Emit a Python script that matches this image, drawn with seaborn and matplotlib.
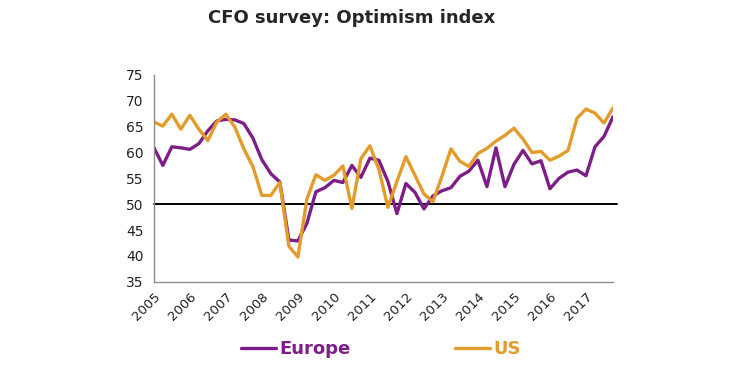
import pandas as pd
import numpy as np
import matplotlib
matplotlib.use("Agg")
import matplotlib.pyplot as plt
import seaborn as sns

# Quarterly readings, 2005 Q1 .. 2017 Q4
years = [str(y) for y in range(2005, 2018)]
quarters = [f"{y} Q{q}" for y in years for q in range(1, 5)]

europe = [
    61.0, 57.5, 61.1, 60.9,
    60.6, 61.7, 64.2, 66.1,
    66.4, 66.3, 65.6, 62.8,
    58.6, 55.9, 54.3, 43.1,
    42.9, 46.3, 52.4, 53.2,
    54.6, 54.2, 57.5, 55.2,
    58.9, 58.5, 54.4, 48.2,
    54.0, 52.3, 49.1, 51.6,
    52.6, 53.2, 55.4, 56.4,
    58.5, 53.4, 60.9, 53.4,
    57.7, 60.4, 57.8, 58.4,
    53.0, 55.0, 56.2, 56.6,
    55.5, 61.1, 63.1, 66.9,
]
us = [
    65.9, 65.1, 67.4, 64.5,
    67.2, 64.5, 62.3, 65.9,
    67.4, 64.9, 60.7, 57.3,
    51.7, 51.7, 54.2, 41.9,
    39.8, 51.0, 55.7, 54.6,
    55.6, 57.4, 49.2, 58.8,
    61.3, 56.7, 49.4, 54.4,
    59.2, 55.6, 52.0, 50.5,
    55.4, 60.7, 58.3, 57.3,
    59.8, 60.8, 62.2, 63.3,
    64.7, 62.6, 60.0, 60.2,
    58.5, 59.3, 60.4, 66.6,
    68.4, 67.6, 65.7, 68.6,
]
series_names = ["Europe", "US"]
colors = ["#7D1E88", "#E39B2B"]
threshold = 50

# long format for seaborn
df = pd.DataFrame({
    "idx": list(range(len(quarters))) * 2,
    "value": europe + us,
    "region": [series_names[0]] * len(europe) + [series_names[1]] * len(us),
})

sns.set_style("white")
plt.rcParams["font.family"] = ["DejaVu Sans"]

fig = plt.figure(figsize=(7.54, 3.67), dpi=100)
ax = fig.add_axes([0.204, 0.232, 0.609, 0.564])

sns.lineplot(data=df, x="idx", y="value", hue="region", palette=colors,
             linewidth=2.4, ax=ax, legend=True)

# 50 reference line
ax.axhline(threshold, color="black", linewidth=1.4, xmin=0, xmax=1.008,
           clip_on=False, zorder=1)

ax.set_xlim(0, len(quarters) - 1)
ax.set_ylim(35, 75)
ax.set_yticks(np.arange(35, 76, 5))
ax.set_xticks(range(0, len(quarters), 4))
ax.set_xticklabels(years, rotation=45, ha="right", rotation_mode="anchor")
ax.set_xlabel("")
ax.set_ylabel("")

for side in ["top", "right"]:
    ax.spines[side].set_visible(False)
for side in ["left", "bottom"]:
    ax.spines[side].set_color("#8c8c8c")
    ax.spines[side].set_linewidth(1.0)
ax.tick_params(axis="both", which="both", direction="out", length=4,
               color="#8c8c8c", labelsize=10, labelcolor="#222222")
ax.tick_params(axis="x", labelsize=9.5, pad=2)

# legend below the chart
leg = ax.legend(loc="center", bbox_to_anchor=(0.505, 0.049),
                bbox_transform=fig.transFigure, ncol=2, frameon=False,
                handlelength=1.95, handletextpad=0.15, columnspacing=5.8,
                prop={"weight": "bold", "size": 13})
for txt, c in zip(leg.get_texts(), colors):
    txt.set_color(c)

fig.text(0.467, 0.951, "CFO survey: Optimism index", ha="center",
         va="center", fontsize=13, fontweight="bold")

fig.savefig("out.png", dpi=100)
